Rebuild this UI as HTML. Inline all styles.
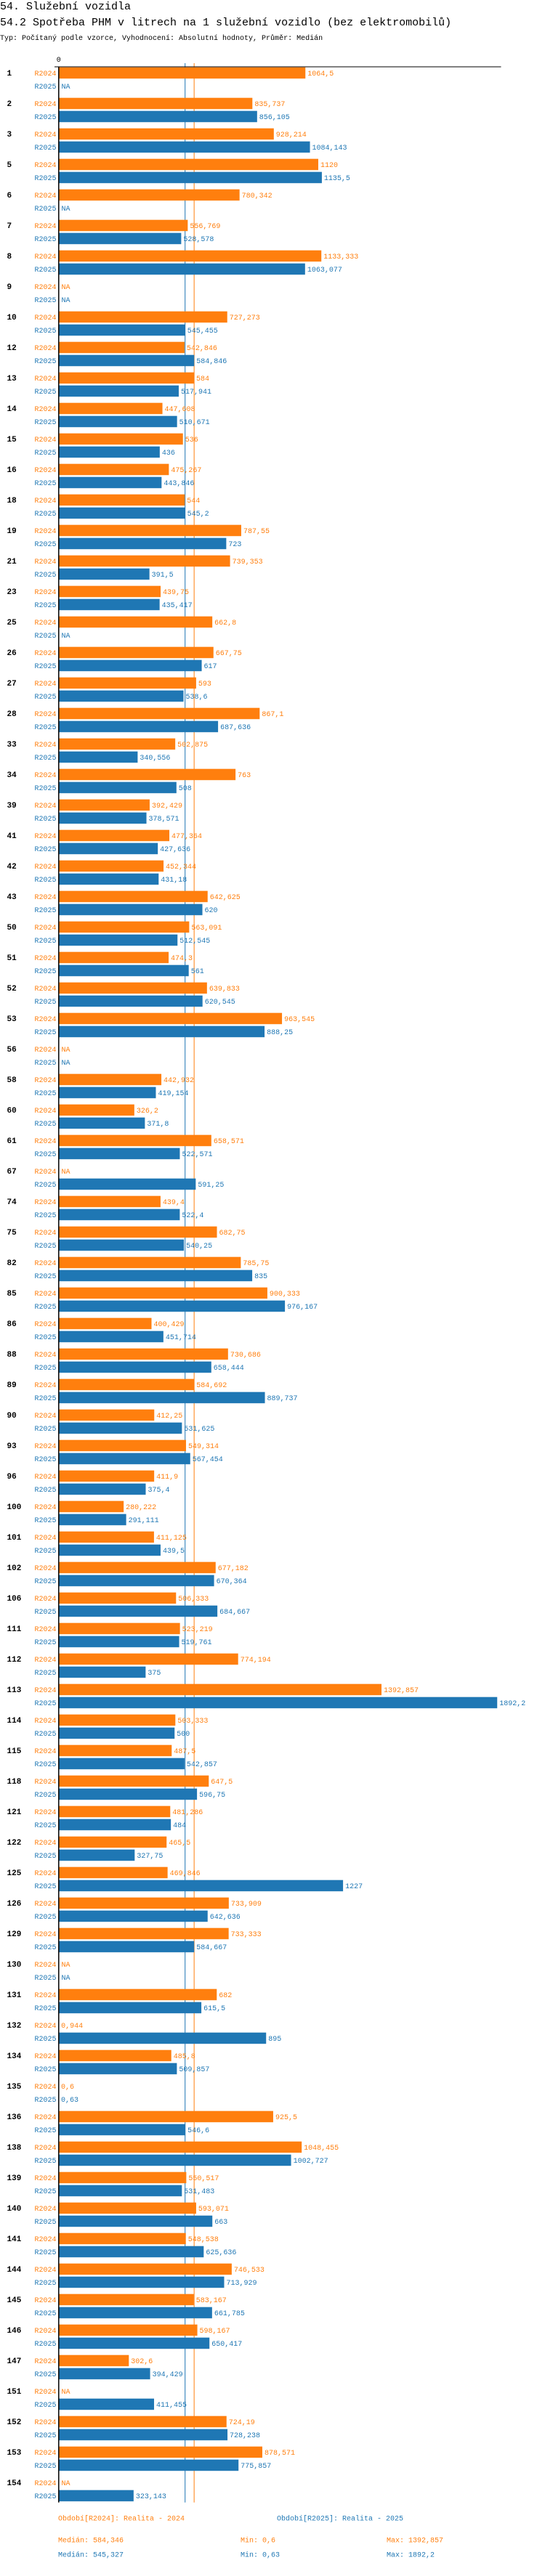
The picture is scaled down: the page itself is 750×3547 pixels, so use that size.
<!DOCTYPE html>
<html><head><meta charset="utf-8"><style>
html,body{margin:0;padding:0;background:#fff;}
body{width:750px;height:3542px;overflow:hidden;position:relative;font-family:"Liberation Mono",monospace;}
svg text{font-family:"Liberation Mono",monospace;}
</style></head><body>
<svg id="chart" width="750" height="3542" viewBox="0 0 750 3542" xmlns="http://www.w3.org/2000/svg">
<text x="0" y="13" font-size="15" fill="#000">54. Služební vozidla</text>
<text x="0" y="35" font-size="15" fill="#000">54.2 Spotřeba PHM v litrech na 1 služební vozidlo (bez elektromobilů)</text>
<text x="0" y="55" font-size="10" fill="#000">Typ: Počítaný podle vzorce, Vyhodnocení: Absolutní hodnoty, Průměr: Medián</text>
<g id="plot"></g>
</svg>
<script>
const categories = ["1","2","3","5","6","7","8","9","10","12","13","14","15","16","18","19","21","23","25","26","27","28","33","34","39","41","42","43","50","51","52","53","56","58","60","61","67","74","75","82","85","86","88","89","90","93","96","100","101","102","106","111","112","113","114","115","118","121","122","125","126","129","130","131","132","134","135","136","138","139","140","141","144","145","146","147","151","152","153","154"];
const values2024 = [1064.5,835.737,928.214,1120,780.342,556.769,1133.333,null,727.273,542.846,584,447.608,536,475.267,544,787.55,739.353,439.75,662.8,667.75,593,867.1,502.875,763,392.429,477.364,452.344,642.625,563.091,474.3,639.833,963.545,null,442.932,326.2,658.571,null,439.4,682.75,785.75,900.333,400.429,730.686,584.692,412.25,549.314,411.9,280.222,411.125,677.182,506.333,523.219,774.194,1392.857,503.333,487.5,647.5,481.286,465.5,469.846,733.909,733.333,null,682,0.944,485.8,0.6,925.5,1048.455,550.517,593.071,548.538,746.533,583.167,598.167,302.6,null,724.19,878.571,null];
const values2025 = [null,856.105,1084.143,1135.5,null,528.578,1063.077,null,545.455,584.846,517.941,510.671,436,443.846,545.2,723,391.5,435.417,null,617,538.6,687.636,340.556,508,378.571,427.636,431.18,620,512.545,561,620.545,888.25,null,419.154,371.8,522.571,591.25,522.4,540.25,835,976.167,451.714,658.444,889.737,531.625,567.454,375.4,291.111,439.5,670.364,684.667,519.761,375,1892.2,500,542.857,596.75,484,327.75,1227,642.636,584.667,null,615.5,895,509.857,0.63,546.6,1002.727,531.483,663,625.636,713.929,661.785,650.417,394.429,411.455,728.238,775.857,323.143];
const medians = [584.346, 545.327];
const seriesNames = ["R2024","R2025"];
const colors = ["#ff7f0e","#1f77b4"];

const NS = "http://www.w3.org/2000/svg";
const plot = document.getElementById("plot");
const X0 = 80.8, K = 0.3189;
const xScale = v => X0 + v * K;
const groupTop = i => 92.7 + i * 42;
function el(tag, attrs, txt){
  const e = document.createElementNS(NS, tag);
  for (const k in attrs) e.setAttribute(k, attrs[k]);
  if (txt !== undefined) e.textContent = txt;
  plot.appendChild(e);
  return e;
}
const fmt = v => String(v).replace(".", ",");
const axisBottom = groupTop(categories.length) - 7;

let t = el("text", {x: X0, y: 85, "font-size": 10, "text-anchor": "middle", fill: "#000"}, "0");



medians.forEach((m, s) => {
  const l = el("line", {x1: xScale(m), x2: xScale(m), y1: 87, y2: axisBottom, stroke: colors[s], "stroke-width": 1});
  
  
});

categories.forEach((c, i) => {
  const top = groupTop(i);
  const lab = el("text", {x: 9.5, y: top + 11.5, "font-size": 11, "font-weight": "bold", fill: "#000"}, c);
  
  
  [values2024[i], values2025[i]].forEach((v, s) => {
    const y = top + s * 18;
    const sl = el("text", {x: 77.5, y: y + 11.5, "font-size": 10, "text-anchor": "end", fill: colors[s]}, seriesNames[s]);
    
    
    if (v === null) {
      const na = el("text", {x: 84.5, y: y + 11.5, "font-size": 10, fill: colors[s]}, "NA");
      
      
      return;
    }
    const w = xScale(v) - X0;
    const r = el("rect", {x: X0, y: y, width: Math.max(0, w), height: 15.5, fill: colors[s]});
    
    
    const vl = el("text", {x: xScale(v) + 3, y: y + 11.5, "font-size": 10, fill: colors[s]}, fmt(v));
    
    
  });
});

const ax = el("line", {x1: X0, x2: X0, y1: 92, y2: axisBottom, stroke: "#000", "stroke-width": 1.5});


const tx = el("line", {x1: 75, x2: 689.5, y1: 92, y2: 92, stroke: "#000", "stroke-width": 1});



const ly = axisBottom;
const legendItems = [
  [80, ly + 25, 0, "Období[R2024]: Realita - 2024", "legend-entry-2024"],
  [381, ly + 25, 1, "Období[R2025]: Realita - 2025", "legend-entry-2025"],
  [80, ly + 55, 0, "Medián: 584,346", "legend-median-2024"],
  [331, ly + 55, 0, "Min: 0,6", "legend-min-2024"],
  [532, ly + 55, 0, "Max: 1392,857", "legend-max-2024"],
  [80, ly + 75, 1, "Medián: 545,327", "legend-median-2025"],
  [331, ly + 75, 1, "Min: 0,63", "legend-min-2025"],
  [532, ly + 75, 1, "Max: 1892,2", "legend-max-2025"]
];
legendItems.forEach(it => {
  const e = el("text", {x: it[0], y: it[1], "font-size": 10, fill: colors[it[2]]}, it[3]);
  
  
});
</script>
</body></html>
